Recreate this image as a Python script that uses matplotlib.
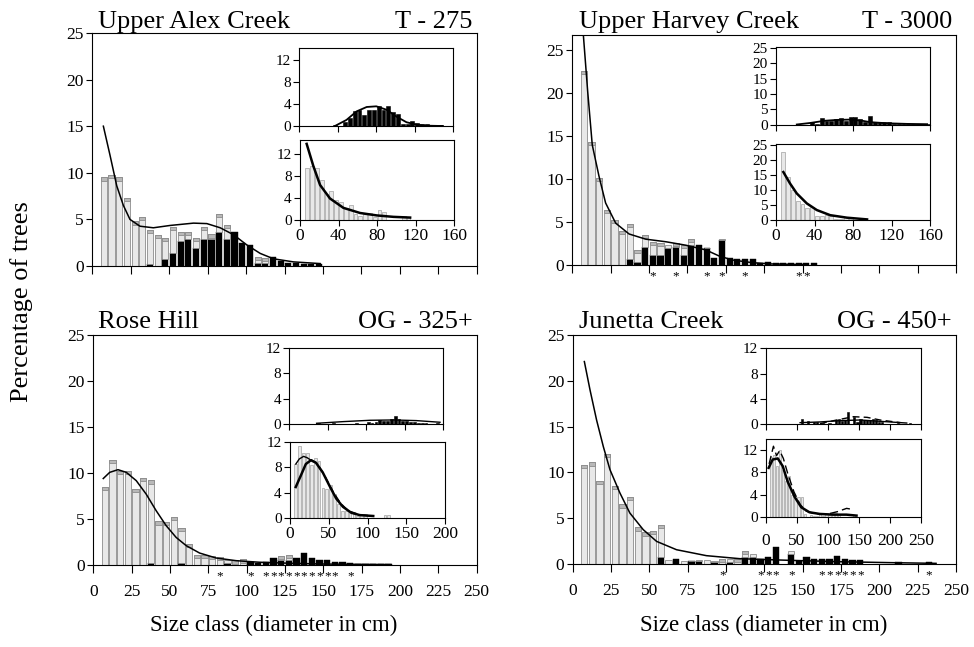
import numpy as np
import matplotlib
matplotlib.use('Agg')
import matplotlib.pyplot as plt
from matplotlib.transforms import blended_transform_factory

plt.rcParams['font.family'] = ['Liberation Serif', 'DejaVu Serif']

# centres of the 5-cm diameter classes
size_classes = np.arange(7.5, 250, 5)

# ---------------- Upper Alex Creek (T-275) ----------------
alex_black = [0, 0, 0, 0, 0, 0, 0.2, 0, 0.75, 1.4, 2.7, 2.9, 1.95, 2.9, 2.9, 3.7, 2.9, 3.65, 2.45, 2.2,
              0.3, 0.3, 0.95, 0.55, 0.35, 0.3, 0.25, 0.2, 0.2]
alex_light = [9.5, 9.8, 9.5, 7.3, 4.8, 5.3, 3.7, 3.35, 2.25, 2.8, 1.0, 0.8, 1.05, 1.3, 0.5, 1.9, 1.5, 0, 0, 0,
              0.7, 0.6, 0, 0, 0, 0, 0, 0, 0]
alex_curve_x = [7.2, 11.5, 15.9, 20.2, 24.5, 31, 39.7, 50.6, 65.8, 74.5, 83.2, 91.8, 100.5, 109.2, 117.9, 130.9, 148.2]
alex_curve_y = [15.0, 11.9, 8.6, 6.5, 5.0, 4.27, 4.1, 4.35, 4.6, 4.55, 4.1, 3.36, 2.26, 1.35, 0.77, 0.44, 0.26]
alex_upper_x = [37, 49, 59.5, 70, 80, 90.7, 101, 111.4, 121.8, 132, 148.8]
alex_upper_y = [0, 1.1, 2.65, 3.45, 3.57, 2.95, 1.7, 0.68, 0.25, 0.06, 0]
alex_lower_x = [6.9, 13.8, 20.8, 31.1, 45, 62.3, 79.6, 96.9, 114.2]
alex_lower_y = [13.8, 9.8, 6.35, 3.9, 2.2, 1.27, 0.83, 0.57, 0.44]
alex_stars = []

# ---------------- Upper Harvey Creek (T-3000) ----------------
harvey_black = [0, 0, 0, 0, 0, 0, 0.66, 0.3, 2.05, 1.2, 1.2, 1.94, 2.05, 1.2, 2.3, 2.3, 1.94, 0.8, 2.9, 0.85,
                0.72, 0.72, 0.7, 0.2, 0.3, 0.25, 0.2, 0.2, 0.25, 0.25, 0.2]
harvey_light = [22.5, 14.3, 10.1, 6.4, 5.2, 3.9, 4.15, 1.4, 1.45, 1.5, 1.4, 0.36, 0.45, 1.1, 0.7, 0, 0.06, 0, 0.1, 0,
                0, 0, 0, 0, 0, 0, 0, 0, 0, 0, 0]
harvey_curve_x = [7.2, 10, 13, 17.4, 21.7, 28.3, 37, 47.8, 60.9, 73.9, 87, 95.6, 104.3, 117.4, 130, 152]
harvey_curve_y = [26.7, 20.2, 13.95, 10.3, 7.2, 4.85, 3.6, 3.0, 2.7, 2.3, 1.75, 1.05, 0.58, 0.27, 0.12, 0.04]
harvey_upper_x = [21.6, 35.5, 50, 63, 77, 90, 98, 115.5, 136, 157]
harvey_upper_y = [0, 0.5, 1.2, 1.5, 1.6, 1.2, 0.76, 0.4, 0.2, 0.1]
harvey_lower_x = [7.65, 14.6, 21.6, 32, 42.4, 56.3, 73.7, 94.6]
harvey_lower_y = [15.9, 12.1, 8.8, 5.5, 3.3, 1.6, 0.77, 0.2]
harvey_stars = [52.5, 67.5, 87.5, 97.5, 112.5, 147.5, 152.5]

# ---------------- Rose Hill (OG-325+) ----------------
rose_black = [0, 0, 0, 0, 0, 0, 0.2, 0, 0, 0, 0.2, 0, 0, 0, 0, 0, 0.2, 0, 0, 0.3,
              0.2, 0.3, 0.75, 0.55, 0.55, 0.8, 1.3, 0.8, 0.55, 0.55, 0.3, 0.3, 0.2, 0.15, 0.15, 0.1, 0.1, 0.15]
rose_light = [8.5, 11.4, 10.2, 10.25, 8.3, 9.5, 9.0, 4.75, 4.65, 5.2, 3.8, 2.3, 1.1, 1.1, 1.0, 0.9, 0.3, 0.5, 0.6, 0,
              0, 0, 0, 0.45, 0.55, 0, 0, 0, 0, 0, 0, 0, 0, 0, 0, 0, 0, 0]
rose_curve_x = [6.5, 10.7, 16.1, 21.5, 28, 34.5, 41, 47.5, 54, 60.6, 69.3, 80.1, 93.1, 108.3, 130, 151.7, 173, 194]
rose_curve_y = [9.4, 10.07, 10.36, 10.07, 9.17, 7.7, 5.9, 4.28, 3.0, 2.1, 1.3, 0.76, 0.47, 0.3, 0.18, 0.1, 0.07, 0.05]
rose_upper_x = [35.5, 70, 104.8, 135, 165, 195.7]
rose_upper_y = [0.16, 0.42, 0.63, 0.68, 0.58, 0.32]
rose_lower_x = [7.4, 14, 20.4, 27, 33.5, 42.2, 50.9, 59.6, 68.3, 79, 90, 107.4]
rose_lower_y = [4.9, 6.7, 8.5, 9.1, 8.7, 7.2, 5.1, 3.1, 1.8, 0.87, 0.5, 0.36]
rose_lower2_x = [7.5, 12, 17.5, 22, 27]
rose_lower2_y = [8.5, 9.3, 9.7, 9.5, 9.1]
rose_lower_dash_x = [27, 35, 45, 55, 65, 75, 90, 105]
rose_lower_dash_y = [9.2, 8.6, 6.6, 4.3, 2.4, 1.2, 0.55, 0.35]
rose_stars = [82.5, 102.5, 112.5, 117.5, 122.5, 127.5, 132.5, 137.5, 142.5, 147.5, 152.5, 157.5, 167.5]

# ---------------- Junetta Creek (OG-450+) ----------------
junetta_black = [0, 0, 0, 0, 0, 0, 0, 0, 0, 0, 0.8, 0, 0.5, 0, 0.3, 0.35, 0, 0.2, 0, 0.2,
                 0, 0.75, 0.8, 0.5, 0.75, 1.9, 0, 1.1, 0.35, 0.8, 0.6, 0.6, 0.6, 0.85, 0.6, 0.4, 0.4, 0, 0, 0,
                 0, 0.2, 0, 0, 0, 0.25]
junetta_light = [10.8, 11.1, 9.1, 12.0, 8.5, 6.5, 7.3, 4.0, 3.45, 3.6, 3.5, 0.4, 0, 0.3, 0.05, 0.05, 0.4, 0.1, 0.6, 0.3,
                 0.6, 0.7, 0.3, 0, 0, 0, 0, 0.35, 0, 0, 0, 0, 0, 0, 0, 0, 0, 0, 0, 0,
                 0, 0, 0, 0, 0, 0]
junetta_curve_x = [7.6, 11.3, 15.6, 20, 24.3, 30.8, 37.3, 46, 54.7, 67.7, 87.2, 109, 141.5, 174, 206.6, 237]
junetta_curve_y = [22.1, 19.0, 15.7, 12.8, 10.3, 7.75, 5.56, 3.75, 2.47, 1.56, 0.91, 0.58, 0.4, 0.25, 0.15, 0.07]
junetta_upper_x = [55, 87, 119.6, 152, 184, 227]
junetta_upper_y = [0.26, 0.37, 0.58, 0.68, 0.47, 0.2]
junetta_upper_dash_x = [87, 114, 141, 163, 184, 217]
junetta_upper_dash_y = [0.1, 0.68, 1.2, 1.1, 0.68, 0.26]
junetta_lower_x = [4.3, 10.8, 19, 27, 35, 46, 56.8, 70, 86.5, 108, 129.7, 146]
junetta_lower_y = [8.8, 10.3, 10.5, 9.1, 6.3, 3.6, 1.7, 0.8, 0.5, 0.37, 0.37, 0.2]
junetta_lower_dash_x = [5, 12, 17, 22, 28, 35, 45, 55, 65, 80, 100, 115, 130, 140]
junetta_lower_dash_y = [9.5, 12.7, 11.0, 11.9, 10.5, 7.8, 4.5, 2.2, 1.0, 0.5, 0.5, 0.9, 1.5, 1.3]
junetta_stars = [97.5, 122.5, 127.5, 132.5, 142.5, 162.5, 167.5, 172.5, 177.5, 182.5, 187.5, 232.5]

LIGHT = '#e8e8e8'
EDGE = '#8c8c8c'
CAPC = '#b8b8b8'
CAP = 0.35

W, H = 974, 647
fig = plt.figure(figsize=(W / 100, H / 100), dpi=100)


def box(x0, y0, x1, y1):
    """pixel box (top-left origin) -> figure fraction rect"""
    return [x0 / W, 1 - y1 / H, (x1 - x0) / W, (y1 - y0) / H]


def pad(v):
    a = np.zeros(len(size_classes))
    a[:len(v)] = v
    return a


def style(ax, fs, lw=0.8):
    for s in ax.spines.values():
        s.set_linewidth(lw)
    ax.tick_params(direction='out', length=4, width=0.8, labelsize=fs, pad=2)


def draw_stack(ax, black, light, width):
    b = pad(black)
    l = pad(light)
    mb = b > 0
    ax.bar(size_classes[mb], b[mb], width, color='black', edgecolor='black', lw=0.3, zorder=2)
    ml = l > 0
    ax.bar(size_classes[ml], l[ml], width, bottom=b[ml], color=LIGHT, edgecolor=EDGE, lw=0.6, zorder=2)
    mc = l > 0.4
    tot = b + l
    ax.bar(size_classes[mc], np.full(mc.sum(), CAP), width, bottom=tot[mc] - CAP,
           color=CAPC, edgecolor=EDGE, lw=0.6, zorder=2)


def main_panel(rect, black, light, cx, cy, stars, ymax, xlabels):
    ax = fig.add_axes(rect)
    draw_stack(ax, black, light, 4.0)
    ax.plot(cx, cy, color='black', lw=1.1, zorder=3, clip_on=True)
    ax.set_xlim(0, 250)
    ax.set_ylim(0, ymax)
    ax.set_xticks(np.arange(0, 251, 25))
    ax.set_yticks([0, 5, 10, 15, 20, 25])
    style(ax, 12.5)
    ax.tick_params(axis='x', length=6, labelsize=12.5, pad=8)
    if not xlabels:
        ax.set_xticklabels([])
    tr = blended_transform_factory(ax.transData, ax.transAxes)
    for s in stars:
        ax.text(s, -0.05, '*', transform=tr, ha='center', va='center', fontsize=9.5)
    return ax


def inset_bars(rect, vals, color, edge, xmax, ymax, xt, yt, xlabels, xpad):
    ax = fig.add_axes(rect)
    v = pad(vals)
    m = v > 0
    ax.bar(size_classes[m], v[m], 4.0 if xmax <= 160 else 3.6, color=color, edgecolor=edge, lw=0.4, zorder=2)
    ax.set_xlim(0, xmax)
    ax.set_ylim(0, ymax)
    ax.set_xticks(xt)
    ax.set_yticks(yt)
    style(ax, 11)
    ax.tick_params(axis='x', labelsize=12.5, pad=xpad)
    if not xlabels:
        ax.set_xticklabels([])
    return ax


# ---- panel geometry (pixels) ----
panels = [
    dict(name='Upper Alex Creek', tag='T - 275', main=(92.3, 33, 476.7, 266), ymax=25, black=alex_black,
         light=alex_light, cx=alex_curve_x, cy=alex_curve_y, stars=alex_stars, xl=False,
         up=(299.3, 48.3, 453.3, 126), lo=(300, 140, 454.3, 220), ixmax=160, iymax_u=14.1, iymax_l=14.5,
         ixt=[0, 40, 80, 120, 160], iyt=[0, 4, 8, 12], xpad=1.5,
         title_xy=(98, 28)),
    dict(name='Upper Harvey Creek', tag='T - 3000', main=(572.3, 35, 956, 265), ymax=26.7, black=harvey_black,
         light=harvey_light, cx=harvey_curve_x, cy=harvey_curve_y, stars=harvey_stars, xl=False,
         up=(776, 47.3, 930, 124.5), lo=(776, 144, 930, 220), ixmax=160, iymax_u=25.2, iymax_l=25.2,
         ixt=[0, 40, 80, 120, 160], iyt=[0, 5, 10, 15, 20, 25], xpad=1.5,
         title_xy=(579, 28)),
    dict(name='Rose Hill', tag='OG - 325+', main=(93.3, 335, 476.7, 565), ymax=25, black=rose_black,
         light=rose_light, cx=rose_curve_x, cy=rose_curve_y, stars=rose_stars, xl=True,
         up=(289.3, 347.7, 443.3, 424.3), lo=(290, 441.7, 445, 518.3), ixmax=200, iymax_u=12, iymax_l=12,
         ixt=[0, 50, 100, 150, 200], iyt=[0, 4, 8, 12], xpad=1.5,
         title_xy=(98, 328)),
    dict(name='Junetta Creek', tag='OG - 450+', main=(572.7, 335, 956, 564), ymax=25, black=junetta_black,
         light=junetta_light, cx=junetta_curve_x, cy=junetta_curve_y, stars=junetta_stars, xl=True,
         up=(766, 348.3, 921, 424.3), lo=(766, 439, 921, 516.7), ixmax=250, iymax_u=12, iymax_l=14,
         ixt=[0, 50, 100, 150, 200, 250], iyt=[0, 4, 8, 12], xpad=8,
         title_xy=(579, 328)),
]

insets = []
for p in panels:
    ax = main_panel(box(*p['main']), p['black'], p['light'], p['cx'], p['cy'], p['stars'], p['ymax'], p['xl'])
    tx, ty = p['title_xy']
    fig.text(tx / W, 1 - ty / H, p['name'], fontsize=19, ha='left', va='baseline')
    fig.text((p['main'][2] - 4) / W, 1 - ty / H, p['tag'], fontsize=19, ha='right', va='baseline')
    au = inset_bars(box(*p['up']), p['black'], 'black', 'black', p['ixmax'], p['iymax_u'], p['ixt'], p['iyt'],
                    False, p['xpad'])
    al = inset_bars(box(*p['lo']), p['light'], LIGHT, EDGE, p['ixmax'], p['iymax_l'], p['ixt'], p['iyt'],
                    True, p['xpad'])
    insets.append((au, al))

# inset curves
(au, al) = insets[0]
au.plot(alex_upper_x, alex_upper_y, color='black', lw=1.3, zorder=3)
al.plot(alex_lower_x, alex_lower_y, color='black', lw=1.8, zorder=3)
(au, al) = insets[1]
au.plot(harvey_upper_x, harvey_upper_y, color='black', lw=1.3, zorder=3)
al.plot(harvey_lower_x, harvey_lower_y, color='black', lw=1.8, zorder=3)
(au, al) = insets[2]
au.plot(rose_upper_x, rose_upper_y, color='black', lw=1.0, zorder=3)
al.plot(rose_lower_x, rose_lower_y, color='black', lw=1.8, zorder=3)
al.plot(rose_lower2_x, rose_lower2_y, color='black', lw=1.0, zorder=3)
al.plot(rose_lower_dash_x, rose_lower_dash_y, color='black', lw=1.0, ls=(0, (5, 3)), zorder=3)
(au, al) = insets[3]
au.plot(junetta_upper_x, junetta_upper_y, color='black', lw=1.0, zorder=3)
au.plot(junetta_upper_dash_x, junetta_upper_dash_y, color='black', lw=1.0, ls=(0, (5, 3)), zorder=3)
al.plot(junetta_lower_x, junetta_lower_y, color='black', lw=1.8, zorder=3)
al.plot(junetta_lower_dash_x, junetta_lower_dash_y, color='black', lw=1.0, ls=(0, (6, 3)), zorder=3)

fig.text(22 / W, 1 - 302 / H, 'Percentage of trees', rotation=90, fontsize=19, ha='center', va='center')
fig.text(274 / W, 1 - 625 / H, 'Size class (diameter in cm)', fontsize=16.5, ha='center', va='center')
fig.text(764 / W, 1 - 625 / H, 'Size class (diameter in cm)', fontsize=16.5, ha='center', va='center')

fig.savefig('out.png', dpi=100)
